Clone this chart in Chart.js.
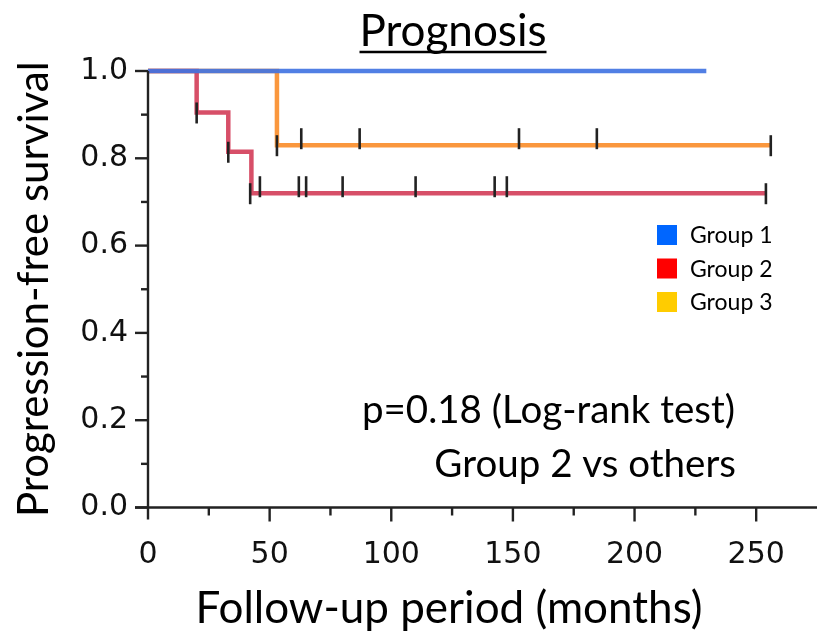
<!DOCTYPE html>
<html>
<head>
<meta charset="utf-8">
<script src="https://cdn.jsdelivr.net/npm/chart.js@4.4.1/dist/chart.umd.min.js"></script>
<style>
  html, body { margin: 0; padding: 0; background: #fff; }
  #wrap { width: 817px; height: 634px; position: relative; }
</style>
</head>
<body>
<div id="wrap"><canvas id="km"></canvas></div>
<script>
// Kaplan-Meier step data: months at which survival changes, and the survival after each change
const groupNames = ['Group 1', 'Group 2', 'Group 3'];

const group1Times = [0, 229.5];
const group1Surv  = [1.0, 1.0];

const group2Times = [0, 20, 33, 42.5, 254];
const group2Surv  = [1.0, 0.905, 0.815, 0.72, 0.72];

const group3Times = [0, 53, 256];
const group3Surv  = [1.0, 0.83, 0.83];

// censored follow-up times (tick marks)
const group2Censor = [20, 33, 42, 46, 62, 65, 80, 110, 142.5, 147.5, 254];
const group3Censor = [53, 63, 87, 152.5, 184.5, 256];

const xTicks = [0, 50, 100, 150, 200, 250];
const yTicks = [0.0, 0.2, 0.4, 0.6, 0.8, 1.0];

const chartTitle = 'Prognosis';
const xTitle = 'Follow-up period (months)';
const yTitle = 'Progression-free survival';
const pValueText = 'p=0.18 (Log-rank test)';
const compareText = 'Group 2 vs others';

const lineColors   = ['rgba(66,116,226,0.92)', 'rgba(208,48,78,0.85)', 'rgba(250,140,40,0.9)'];
const legendColors = ['#0066ff', '#ff0000', '#ffcc00'];

const SANS = 'Lato, "Open Sans", sans-serif';
const TICKF = '"DejaVu Sans", Verdana, sans-serif';

function toPoints(times, surv) {
  return times.map((t, i) => ({ x: t, y: surv[i] }));
}
function survAt(times, surv, t) {
  let s = surv[0];
  for (let i = 0; i < times.length; i++) if (times[i] <= t) s = surv[i];
  return s;
}

// censor marks, axis cross, minor ticks, titles, legend and test annotation
const kmExtras = {
  id: 'kmExtras',
  afterDatasetsDraw(chart) {
    const { ctx, chartArea: a, scales: { x, y } } = chart;
    ctx.save();

    // censor ticks; marks sitting on an event step are centred on it
    ctx.strokeStyle = '#222';
    ctx.lineWidth = 2.6;
    ctx.lineCap = 'butt';
    const marks = [
      [group2Times, group2Surv, group2Censor],
      [group3Times, group3Surv, group3Censor]
    ];
    marks.forEach(([times, surv, cens]) => {
      cens.forEach(t => {
        const px = x.getPixelForValue(t);
        const py = y.getPixelForValue(survAt(times, surv, t + 0.6));
        const onStep = times.some(tt => tt > 0 && Math.abs(tt - t) < 1);
        const up = onStep ? 10 : 17, down = onStep ? 11 : 4;
        ctx.beginPath();
        ctx.moveTo(px, py - up);
        ctx.lineTo(px, py + down);
        ctx.stroke();
      });
    });

    // axes drawn as a cross at the origin
    ctx.strokeStyle = '#222';
    ctx.lineWidth = 2.4;
    const x0 = x.getPixelForValue(0), y0 = y.getPixelForValue(0);
    ctx.beginPath();
    ctx.moveTo(x0, y.getPixelForValue(1.0));
    ctx.lineTo(x0, y0 + 12);
    ctx.moveTo(x0 - 13, y0);
    ctx.lineTo(a.right, y0);
    ctx.stroke();

    // y ticks: major every 0.2, minor every 0.1
    for (let v = 0; v <= 10; v++) {
      const py = y.getPixelForValue(v / 10);
      const len = v % 2 === 0 ? 13 : 7;
      ctx.beginPath();
      ctx.moveTo(x0 - len, py);
      ctx.lineTo(x0, py);
      ctx.stroke();
    }
    // x ticks: major every 50, minor every 25
    for (let v = 25; v <= 250; v += 25) {
      const px = x.getPixelForValue(v);
      const len = v % 50 === 0 ? 14 : 8;
      ctx.beginPath();
      ctx.moveTo(px, y0);
      ctx.lineTo(px, y0 + len);
      ctx.stroke();
    }

    // title, underlined
    ctx.fillStyle = '#000';
    ctx.font = '44px ' + SANS;
    ctx.textAlign = 'center';
    ctx.textBaseline = 'alphabetic';
    const tw = ctx.measureText(chartTitle).width;
    const tx = 453, ty = 46;
    ctx.fillText(chartTitle, tx, ty);
    ctx.lineWidth = 2.4;
    ctx.strokeStyle = '#000';
    ctx.beginPath();
    ctx.moveTo(tx - tw / 2, ty + 6);
    ctx.lineTo(tx + tw / 2, ty + 6);
    ctx.stroke();

    // x axis title
    ctx.font = '44px ' + SANS;
    ctx.fillText(xTitle, 449, 623);

    // legend
    ctx.font = '23px ' + SANS;
    ctx.textAlign = 'left';
    ctx.textBaseline = 'middle';
    groupNames.forEach((name, i) => {
      const ly = 235 + i * 33.5;
      ctx.fillStyle = legendColors[i];
      ctx.fillRect(657, ly - 10, 20, 20);
      ctx.fillStyle = '#000';
      ctx.fillText(name, 690, ly + 1);
    });

    // log-rank annotation, right aligned
    ctx.font = '38.5px ' + SANS;
    ctx.textAlign = 'right';
    ctx.textBaseline = 'alphabetic';
    ctx.fillText(pValueText, 735, 423);
    ctx.fillText(compareText, 736, 477);

    ctx.restore();
  }
};

new Chart(document.getElementById('km'), {
  type: 'line',
  data: {
    datasets: [
      { label: groupNames[0], data: toPoints(group1Times, group1Surv), borderColor: lineColors[0] },
      { label: groupNames[1], data: toPoints(group2Times, group2Surv), borderColor: lineColors[1] },
      { label: groupNames[2], data: toPoints(group3Times, group3Surv), borderColor: lineColors[2] }
    ]
  },
  options: {
    responsive: true,
    maintainAspectRatio: false,
    animation: false,
    layout: { padding: { top: 71, right: 0, left: 0, bottom: 0 } },
    elements: {
      line: { stepped: 'before', borderWidth: 4.5, fill: false, tension: 0, borderCapStyle: 'butt', borderJoinStyle: 'miter' },
      point: { radius: 0, hoverRadius: 0 }
    },
    datasets: { line: { clip: false } },
    plugins: { legend: { display: false }, tooltip: { enabled: false }, title: { display: false } },
    scales: {
      x: {
        type: 'linear', min: 0, max: 275,
        afterFit(s) { s.height = 126.5; },
        afterBuildTicks(s) { s.ticks = xTicks.map(v => ({ value: v })); },
        grid: { display: false, drawTicks: false },
        border: { display: false },
        ticks: { font: { family: TICKF, size: 30 }, color: '#111', padding: 30, maxRotation: 0, autoSkip: false,
                 callback: v => String(v) }
      },
      y: {
        type: 'linear', min: 0, max: 1.0,
        afterFit(s) { s.width = 148; },
        afterBuildTicks(s) { s.ticks = yTicks.map(v => ({ value: v })); },
        grid: { display: false, drawTicks: false },
        border: { display: false },
        ticks: { font: { family: TICKF, size: 30 }, color: '#111', padding: 20,
                 callback: v => v.toFixed(1) },
        title: { display: true, text: yTitle, font: { family: SANS, size: 42 }, color: '#000',
                 padding: { top: 9, bottom: 0 } }
      }
    }
  },
  plugins: [kmExtras]
});
</script>
</body>
</html>
